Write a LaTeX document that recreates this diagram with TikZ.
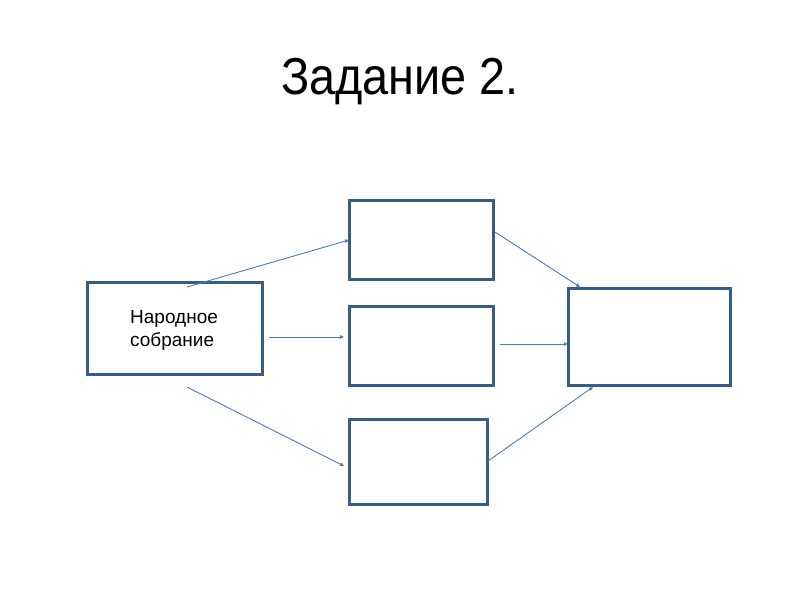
\documentclass[tikz,border=0pt]{standalone}
\usepackage{fontspec}
\setmainfont{Liberation Sans}
\usetikzlibrary{arrows.meta}
\definecolor{boxc}{HTML}{385D8A}
\definecolor{arrc}{HTML}{4A7EBB}
\tikzset{
  box/.style={draw=boxc, line width=2.2pt, fill=white, inner sep=0pt},
  conn/.style={draw=arrc, line width=0.9pt, -{Triangle[length=4pt,width=3.5pt]}},
}
\begin{document}
\begin{tikzpicture}[x=1pt,y=-1pt]
\useasboundingbox (0,0) rectangle (800,600);
\node[anchor=base, font=\fontsize{52}{60}\selectfont] (title) at (400,94) {\scalebox{0.9}[1]{Задание 2.}};
\node[box, minimum width=175pt, minimum height=92pt] (L) at (175,328.5) {};
\node[anchor=north west, align=left, inner sep=0pt, font=\fontsize{19}{23}\selectfont] (Ltext) at (130,310) {Народное\\собрание};
\node[box, minimum width=144pt, minimum height=79pt] (T) at (421.5,240) {};
\node[box, minimum width=144pt, minimum height=79pt] (M) at (421.5,346) {};
\node[box, minimum width=138pt, minimum height=85pt] (B) at (418.5,462) {};
\node[box, minimum width=162pt, minimum height=97pt] (R) at (649.5,337) {};
\coordinate (a1s) at (187,287);
\coordinate (a1e) at (349,240);
\coordinate (a2s) at (269,337);
\coordinate (a2e) at (344,337);
\coordinate (a3s) at (187,387);
\coordinate (a3e) at (344,466);
\coordinate (a4s) at (495,232);
\coordinate (a4e) at (580,287);
\coordinate (a5s) at (500,344);
\coordinate (a5e) at (568,344);
\coordinate (a6s) at (488,461);
\coordinate (a6e) at (593,387);
\draw[conn] (a1s) -- (a1e);
\draw[conn] (a2s) -- (a2e);
\draw[conn] (a3s) -- (a3e);
\draw[conn] (a4s) -- (a4e);
\draw[conn] (a5s) -- (a5e);
\draw[conn] (a6s) -- (a6e);
\end{tikzpicture}
\end{document}
